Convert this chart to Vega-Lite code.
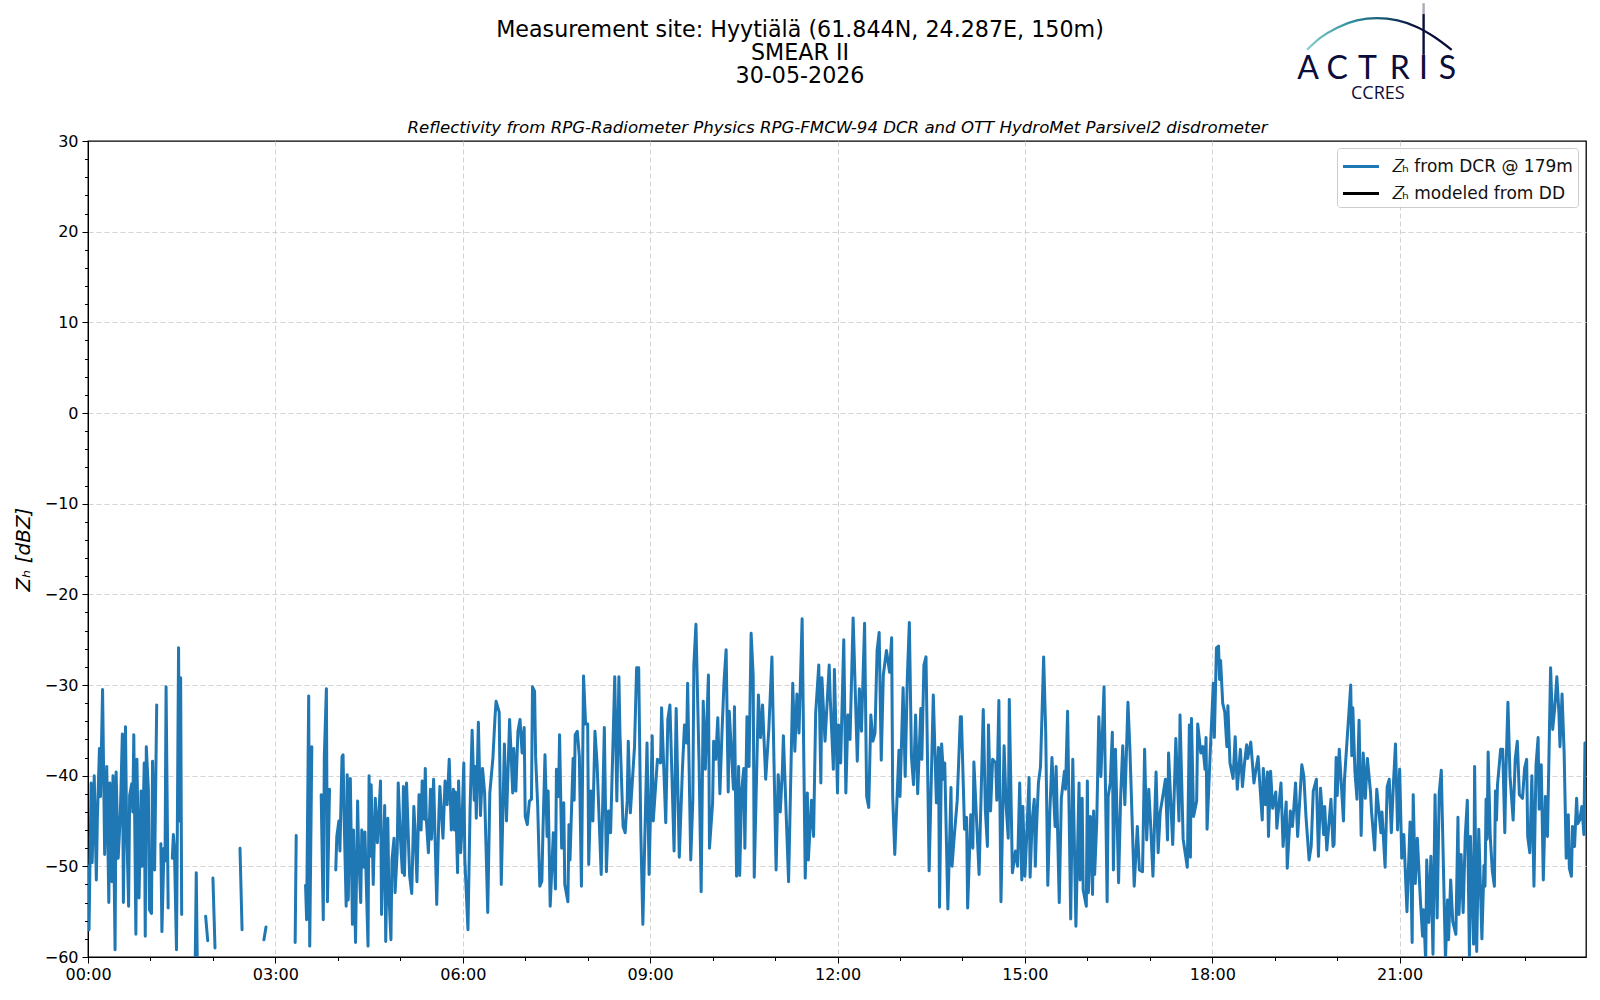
{
"$schema":"https://vega.github.io/schema/vega-lite/v6.json",
"width":1498,"height":816,
"autosize":{"type":"none"},
"padding":{"left":88,"top":141,"right":14,"bottom":43},
"background":"white",
"config":{"view":{"stroke":"black","strokeWidth":1.3},"font":"DejaVu Sans"},
"title":{"text":["Measurement site: Hyytiälä (61.844N, 24.287E, 150m)","SMEAR II","30-05-2026"],"font":"DejaVu Sans","fontSize":22.2,"fontWeight":"normal","lineHeight":23,"anchor":"middle","dx":-37,"offset":-85},
"resolve":{"axis":{"x":"independent","y":"independent"}},
"layer":[
{"data":{"values":[{"t":"12:00","z":30,"label":"Reflectivity from RPG-Radiometer Physics RPG-FMCW-94 DCR and OTT HydroMet Parsivel2 disdrometer"}],"format":{"parse":{"t":"date:'%H:%M'"}}},
"mark":{"type":"text","font":"DejaVu Sans","fontStyle":"italic","fontSize":16.6,"baseline":"bottom","dy":-5,"color":"black"},
"encoding":{
"x":{"field":"t","type":"temporal","axis":{"orient":"bottom","title":null,"labels":false,"ticks":false,"domain":false,"grid":true,"gridColor":"#d3d3d3","gridDash":[5,3],
"values":[{"year":1900,"month":1,"date":1,"hours":3},{"year":1900,"month":1,"date":1,"hours":6},{"year":1900,"month":1,"date":1,"hours":9},{"year":1900,"month":1,"date":1,"hours":12},{"year":1900,"month":1,"date":1,"hours":15},{"year":1900,"month":1,"date":1,"hours":18},{"year":1900,"month":1,"date":1,"hours":21}]}},
"y":{"field":"z","type":"quantitative","axis":{"orient":"left","title":null,"labels":false,"ticks":false,"domain":false,"grid":true,"gridColor":"#d3d3d3","gridDash":[5,3],"values":[-50,-40,-30,-20,-10,0,10,20]}},
"text":{"field":"label"}}},
{"data":{"values":[{"t":"19:32","z":36.84,"label":"A"},{"t":"20:00","z":36.84,"label":"C"},{"t":"20:29","z":36.84,"label":"T"},{"t":"21:00","z":36.84,"label":"R"},{"t":"21:23","z":36.84,"label":"I"},{"t":"21:46","z":36.84,"label":"S"}],"format":{"parse":{"t":"date:'%H:%M'"}}},
"mark":{"type":"text","font":"Lato","fontSize":32,"baseline":"alphabetic","color":"#0b0d3a"},
"encoding":{
"x":{"field":"t","type":"temporal","axis":{"orient":"bottom","title":null,"labels":false,"domain":false,"grid":false,"tickColor":"black","tickSize":3.5,
"values":[{"year":1900,"month":1,"date":1,"hours":1},{"year":1900,"month":1,"date":1,"hours":2},{"year":1900,"month":1,"date":1,"hours":4},{"year":1900,"month":1,"date":1,"hours":5},{"year":1900,"month":1,"date":1,"hours":7},{"year":1900,"month":1,"date":1,"hours":8},{"year":1900,"month":1,"date":1,"hours":10},{"year":1900,"month":1,"date":1,"hours":11},{"year":1900,"month":1,"date":1,"hours":13},{"year":1900,"month":1,"date":1,"hours":14},{"year":1900,"month":1,"date":1,"hours":16},{"year":1900,"month":1,"date":1,"hours":17},{"year":1900,"month":1,"date":1,"hours":19},{"year":1900,"month":1,"date":1,"hours":20},{"year":1900,"month":1,"date":1,"hours":22},{"year":1900,"month":1,"date":1,"hours":23}]}},
"y":{"field":"z","type":"quantitative","axis":{"orient":"left","title":null,"labels":false,"domain":false,"grid":false,"tickColor":"black","tickSize":3.5,"values":[-58,-56,-54,-52,-48,-46,-44,-42,-38,-36,-34,-32,-28,-26,-24,-22,-18,-16,-14,-12,-8,-6,-4,-2,2,4,6,8,12,14,16,18,22,24,26,28]}},
"text":{"field":"label"}}},
{"data":{"format":{"parse":{"t":"date:'%H:%M'"}},"values":[
{"t":"00:00","z":-50},{"t":"00:01","z":-57},{"t":"00:03","z":-40.8},{"t":"00:04","z":-49.6},{"t":"00:06","z":-40},{"t":"00:08","z":-51.5},{"t":"00:09","z":-44.7},{"t":"00:11","z":-37},{"t":"00:12","z":-42.3},{"t":"00:14","z":-30.5},{"t":"00:16","z":-48.7},{"t":"00:18","z":-39},{"t":"00:20","z":-54},{"t":"00:21","z":-40.8},{"t":"00:23","z":-51.7},{"t":"00:24","z":-40},{"t":"00:26","z":-59.2},{"t":"00:27","z":-39.6},{"t":"00:29","z":-49.1},{"t":"00:31","z":-44.5},{"t":"00:33","z":-35.4},{"t":"00:34","z":-54},{"t":"00:36","z":-34.6},{"t":"00:37","z":-44.8},{"t":"00:39","z":-54.4},{"t":"00:40","z":-42.2},{"t":"00:42","z":-40.9},{"t":"00:43","z":-44},{"t":"00:44","z":-35.5},{"t":"00:46","z":-57.5},{"t":"00:47","z":-38.2},{"t":"00:49","z":-53.5},{"t":"00:51","z":-41.7},{"t":"00:52","z":-50},{"t":"00:54","z":-38.6},{"t":"00:55","z":-57.7},{"t":"00:56","z":-36.8},{"t":"00:58","z":-41.6},{"t":"00:59","z":-54.8},{"t":"01:01","z":-55.2},{"t":"01:02","z":-38.4},{"t":"01:04","z":-50.4},{"t":"01:06","z":-32.2},{"t":"01:08","z":null},
{"t":"01:10","z":-47.5},{"t":"01:11","z":-57.2},{"t":"01:13","z":-48},{"t":"01:14","z":-49.4},{"t":"01:15","z":-30.2},{"t":"01:17","z":-54.6},{"t":"01:18","z":null},
{"t":"01:21","z":-49.1},{"t":"01:22","z":-46.5},{"t":"01:23","z":-48},{"t":"01:25","z":-59.2},{"t":"01:27","z":-25.9},{"t":"01:28","z":-45},{"t":"01:29","z":-29.2},{"t":"01:30","z":-55.3},{"t":"01:31","z":null},
{"t":"01:43","z":-60.5},{"t":"01:44","z":-50.7},{"t":"01:45","z":-61},{"t":"01:46","z":-60.5},{"t":"01:48","z":null},
{"t":"01:53","z":-55.5},{"t":"01:55","z":-58.2},{"t":"01:56","z":null},
{"t":"02:00","z":-51.3},{"t":"02:02","z":-59},{"t":"02:03","z":null},
{"t":"02:26","z":-48},{"t":"02:28","z":-57},{"t":"02:29","z":null},
{"t":"02:49","z":-58.1},{"t":"02:51","z":-56.7},{"t":"02:52","z":null},
{"t":"03:19","z":-58.4},{"t":"03:20","z":-46.6},{"t":"03:22","z":null},
{"t":"03:29","z":-52.1},{"t":"03:30","z":-55.9},{"t":"03:32","z":-31.2},{"t":"03:33","z":-58.8},{"t":"03:35","z":-36.8},{"t":"03:38","z":null},
{"t":"03:44","z":-42.1},{"t":"03:46","z":-55.9},{"t":"03:47","z":-38},{"t":"03:49","z":-30.4},{"t":"03:50","z":-53.9},{"t":"03:52","z":-41.5},{"t":"03:54","z":null},
{"t":"03:58","z":-50.4},{"t":"03:59","z":-46.7},{"t":"04:01","z":-45},{"t":"04:02","z":-48.3},{"t":"04:04","z":-37.9},{"t":"04:05","z":-37.7},{"t":"04:06","z":-44.4},{"t":"04:08","z":-54.4},{"t":"04:09","z":-39.9},{"t":"04:10","z":-53.7},{"t":"04:12","z":-40.3},{"t":"04:14","z":-56.4},{"t":"04:15","z":-46},{"t":"04:17","z":-58.4},{"t":"04:19","z":-42.8},{"t":"04:20","z":-48.5},{"t":"04:22","z":-54},{"t":"04:23","z":-46},{"t":"04:25","z":-50.1},{"t":"04:26","z":-46.2},{"t":"04:29","z":-58.8},{"t":"04:30","z":-40},{"t":"04:31","z":-48.9},{"t":"04:32","z":-41},{"t":"04:34","z":-52},{"t":"04:36","z":-42.5},{"t":"04:38","z":-47.4},{"t":"04:41","z":-40.6},{"t":"04:42","z":-55.3},{"t":"04:45","z":-43.3},{"t":"04:46","z":-58.3},{"t":"04:48","z":-44.7},{"t":"04:49","z":-52.9},{"t":"04:51","z":-58.1},{"t":"04:52","z":-49.3},{"t":"04:54","z":-46.9},{"t":"04:55","z":-52.9},{"t":"04:57","z":-48.5},{"t":"04:58","z":-40.8},{"t":"05:00","z":-46.7},{"t":"05:02","z":-50.7},{"t":"05:03","z":-41.2},{"t":"05:04","z":-51},{"t":"05:06","z":-40.8},{"t":"05:08","z":-47.8},{"t":"05:09","z":-51.1},{"t":"05:11","z":-53},{"t":"05:13","z":-43.4},{"t":"05:14","z":-45.6},{"t":"05:16","z":-51.7},{"t":"05:18","z":-42.1},{"t":"05:20","z":-46},{"t":"05:21","z":-40.6},{"t":"05:23","z":-44.8},{"t":"05:24","z":-39.2},{"t":"05:25","z":-44.8},{"t":"05:27","z":-48.5},{"t":"05:29","z":-41.5},{"t":"05:30","z":-47},{"t":"05:32","z":-40.4},{"t":"05:35","z":-54.2},{"t":"05:37","z":-44.5},{"t":"05:38","z":-41.2},{"t":"05:41","z":-46.9},{"t":"05:43","z":-40.6},{"t":"05:45","z":-43.2},{"t":"05:47","z":-38.2},{"t":"05:49","z":-46},{"t":"05:51","z":-41.5},{"t":"05:52","z":-46},{"t":"05:53","z":-41.8},{"t":"05:55","z":-50.7},{"t":"05:56","z":-40.6},{"t":"05:58","z":-48.5},{"t":"05:59","z":-46.3},
{"t":"06:01","z":-38.6},{"t":"06:02","z":-49.3},{"t":"06:05","z":-57},{"t":"06:07","z":-43.8},{"t":"06:09","z":-35},{"t":"06:11","z":-42.7},{"t":"06:12","z":-39},{"t":"06:13","z":-44.7},{"t":"06:15","z":-34.1},{"t":"06:17","z":-44.4},{"t":"06:19","z":-39.2},{"t":"06:21","z":-41.9},{"t":"06:24","z":-55.1},{"t":"06:26","z":-41.9},{"t":"06:29","z":-38},{"t":"06:31","z":-33.5},{"t":"06:32","z":-31.8},{"t":"06:35","z":-33},{"t":"06:37","z":-52},{"t":"06:40","z":-36.5},{"t":"06:42","z":-45},{"t":"06:45","z":-33.8},{"t":"06:48","z":-41.9},{"t":"06:49","z":-37},{"t":"06:51","z":-41.7},{"t":"06:53","z":-35.1},{"t":"06:55","z":-33.8},{"t":"06:57","z":-37.5},{"t":"06:59","z":-34.7},{"t":"07:00","z":-44.5},{"t":"07:02","z":-45.4},{"t":"07:04","z":-42.8},{"t":"07:06","z":-42.6},{"t":"07:07","z":-30.2},{"t":"07:09","z":-30.7},{"t":"07:10","z":-37.9},{"t":"07:12","z":-43.4},{"t":"07:14","z":-52.2},{"t":"07:16","z":-51.6},{"t":"07:17","z":-46.3},{"t":"07:19","z":-37.7},{"t":"07:21","z":-46.7},{"t":"07:22","z":-41.7},{"t":"07:24","z":-54.4},{"t":"07:27","z":-46.3},{"t":"07:29","z":-52.5},{"t":"07:30","z":-39.3},{"t":"07:32","z":-42.3},{"t":"07:33","z":-35.5},{"t":"07:35","z":-48},{"t":"07:37","z":-43},{"t":"07:38","z":-52},{"t":"07:41","z":-53.9},{"t":"07:42","z":-45.4},{"t":"07:43","z":-49.3},{"t":"07:46","z":-38.1},{"t":"07:47","z":-42.7},{"t":"07:48","z":-35.5},{"t":"07:50","z":-35.1},{"t":"07:52","z":-37.9},{"t":"07:54","z":-52.2},{"t":"07:56","z":-29},{"t":"07:58","z":-34.3},{"t":"08:00","z":-34.3},{"t":"08:01","z":-49.8},{"t":"08:03","z":-41.7},{"t":"08:05","z":-45},{"t":"08:07","z":-35.1},{"t":"08:09","z":-38.6},{"t":"08:13","z":-50.9},{"t":"08:16","z":-34.7},{"t":"08:18","z":-50.6},{"t":"08:20","z":-43.9},{"t":"08:22","z":-46.3},{"t":"08:26","z":-29.1},{"t":"08:28","z":-42.8},{"t":"08:30","z":-29.1},{"t":"08:31","z":-35.3},{"t":"08:34","z":-45.6},{"t":"08:36","z":-46.3},{"t":"08:38","z":-42.7},{"t":"08:39","z":-36.2},{"t":"08:41","z":-44.1},{"t":"08:45","z":-36.8},{"t":"08:47","z":-28.1},{"t":"08:49","z":-28.1},{"t":"08:51","z":-46},{"t":"08:53","z":-56.4},{"t":"08:57","z":-36.4},{"t":"08:59","z":-50.9},{"t":"09:02","z":-35.6},{"t":"09:03","z":-45},{"t":"09:07","z":-38.2},{"t":"09:10","z":-38.6},{"t":"09:11","z":-32.5},{"t":"09:15","z":-45.2},{"t":"09:17","z":-33.8},{"t":"09:19","z":-32.2},{"t":"09:23","z":-48.3},{"t":"09:25","z":-32.6},{"t":"09:28","z":-49},{"t":"09:31","z":-39.3},{"t":"09:33","z":-34.4},{"t":"09:35","z":-36.4},{"t":"09:36","z":-29.8},{"t":"09:39","z":-49.3},{"t":"09:41","z":-42.7},{"t":"09:42","z":-27.8},{"t":"09:44","z":-23.3},{"t":"09:47","z":-38.6},{"t":"09:49","z":-52.8},{"t":"09:51","z":-31.8},{"t":"09:53","z":-39.3},{"t":"09:56","z":-28.9},{"t":"09:57","z":-48},{"t":"10:00","z":-43},{"t":"10:01","z":-36.2},{"t":"10:03","z":-38.2},{"t":"10:05","z":-33.6},{"t":"10:07","z":-42},{"t":"10:09","z":-35.3},{"t":"10:11","z":-29.6},{"t":"10:13","z":-26.1},{"t":"10:15","z":-41.8},{"t":"10:16","z":-32.9},{"t":"10:20","z":-41.5},{"t":"10:21","z":-32.4},{"t":"10:23","z":-51.1},{"t":"10:25","z":-39},{"t":"10:26","z":-51},{"t":"10:28","z":-41.5},{"t":"10:30","z":-39.2},{"t":"10:31","z":-48},{"t":"10:33","z":-33.5},{"t":"10:35","z":-39},{"t":"10:37","z":-24.3},{"t":"10:39","z":-29},{"t":"10:40","z":-51.2},{"t":"10:44","z":-31.1},{"t":"10:46","z":-35.8},{"t":"10:48","z":-32.2},{"t":"10:51","z":-40.4},{"t":"10:54","z":-34.9},{"t":"10:57","z":-26.9},{"t":"11:01","z":-50.4},{"t":"11:03","z":-39.9},{"t":"11:05","z":-44},{"t":"11:07","z":-39.5},{"t":"11:08","z":-35.6},{"t":"11:13","z":-51.7},{"t":"11:17","z":-29.8},{"t":"11:19","z":-37.3},{"t":"11:21","z":-31},{"t":"11:23","z":-35.3},{"t":"11:26","z":-22.7},{"t":"11:29","z":-51.3},{"t":"11:31","z":-41.9},{"t":"11:32","z":-49.3},{"t":"11:35","z":-42.7},{"t":"11:37","z":-46.7},{"t":"11:39","z":-33.1},{"t":"11:42","z":-27.8},{"t":"11:44","z":-40.8},{"t":"11:45","z":-29.2},{"t":"11:48","z":-36.2},{"t":"11:52","z":-27.8},{"t":"11:53","z":-31.4},{"t":"11:56","z":-39.3},{"t":"11:57","z":-28.3},{"t":"12:00","z":-41.9},{"t":"12:01","z":-34.4},{"t":"12:03","z":-38.6},{"t":"12:06","z":-25},{"t":"12:08","z":-41.9},{"t":"12:10","z":-33.3},{"t":"12:12","z":-36},{"t":"12:15","z":-22.6},{"t":"12:19","z":-38.4},{"t":"12:21","z":-30.4},{"t":"12:23","z":-35.1},{"t":"12:26","z":-23.2},{"t":"12:28","z":-42.3},{"t":"12:30","z":-43.5},{"t":"12:32","z":-33.3},{"t":"12:34","z":-36.2},{"t":"12:36","z":-35.3},{"t":"12:38","z":-26.2},{"t":"12:40","z":-24.2},{"t":"12:42","z":-38.3},{"t":"12:44","z":-28.9},{"t":"12:47","z":-26.2},{"t":"12:50","z":-28.6},{"t":"12:52","z":-24.8},{"t":"12:53","z":-42.3},{"t":"12:55","z":-48.7},{"t":"12:59","z":-37.2},{"t":"13:00","z":-42.3},{"t":"13:03","z":-30.3},{"t":"13:05","z":-40.1},{"t":"13:07","z":-29.4},{"t":"13:09","z":-23.1},{"t":"13:11","z":-37.9},{"t":"13:13","z":-41},{"t":"13:15","z":-33.3},{"t":"13:17","z":-42},{"t":"13:20","z":-32.6},{"t":"13:21","z":-38.2},{"t":"13:23","z":-27.8},{"t":"13:25","z":-26.9},{"t":"13:28","z":-50.5},{"t":"13:32","z":-31.1},{"t":"13:35","z":-43},{"t":"13:37","z":-36.9},{"t":"13:38","z":-54.5},{"t":"13:40","z":-36.5},{"t":"13:42","z":-40.4},{"t":"13:43","z":-38.6},{"t":"13:46","z":-54.7},{"t":"13:49","z":-41.3},{"t":"13:50","z":-50},{"t":"13:52","z":-46.9},{"t":"13:55","z":-42.7},{"t":"13:58","z":-33.5},{"t":"13:59","z":-33.5},{"t":"14:02","z":-45.9},{"t":"14:04","z":-44.6},{"t":"14:05","z":-54.6},{"t":"14:08","z":-44.3},{"t":"14:10","z":-48},{"t":"14:11","z":-38.5},{"t":"14:16","z":-50.9},{"t":"14:20","z":-32.7},{"t":"14:22","z":-43.8},{"t":"14:24","z":-47.8},{"t":"14:25","z":-34.4},{"t":"14:27","z":-43.9},{"t":"14:29","z":-38.2},{"t":"14:32","z":-38.6},{"t":"14:33","z":-42.7},{"t":"14:35","z":-31.7},{"t":"14:37","z":-53.9},{"t":"14:40","z":-36.7},{"t":"14:42","z":-43.4},{"t":"14:44","z":-46.9},{"t":"14:45","z":-31.6},{"t":"14:48","z":-50.7},{"t":"14:51","z":-48.3},{"t":"14:53","z":-50},{"t":"14:55","z":-40.8},{"t":"14:57","z":-51.5},{"t":"14:58","z":-43.4},{"t":"15:00","z":-51.1},{"t":"15:02","z":-46},{"t":"15:04","z":-40.2},{"t":"15:05","z":-51.2},{"t":"15:07","z":-44.9},{"t":"15:09","z":-42.6},{"t":"15:10","z":-50},{"t":"15:11","z":-46.3},{"t":"15:13","z":-40.8},{"t":"15:15","z":-39},{"t":"15:18","z":-26.9},{"t":"15:20","z":-35.3},{"t":"15:22","z":-52.1},{"t":"15:24","z":-43.9},{"t":"15:26","z":-38},{"t":"15:29","z":-45.6},{"t":"15:30","z":-39},{"t":"15:33","z":-54},{"t":"15:35","z":-42.5},{"t":"15:38","z":-39.5},{"t":"15:39","z":-41.5},{"t":"15:41","z":-32.9},{"t":"15:44","z":-55.8},{"t":"15:46","z":-38.2},{"t":"15:49","z":-56.6},{"t":"15:52","z":-40.8},{"t":"15:53","z":-51.5},{"t":"15:55","z":-42.5},{"t":"15:56","z":-52.6},{"t":"15:59","z":-54.4},{"t":"16:00","z":-40.6},{"t":"16:01","z":-52.9},{"t":"16:03","z":-44.5},{"t":"16:05","z":-53.1},{"t":"16:06","z":-43.9},{"t":"16:07","z":-50.9},{"t":"16:09","z":-45.2},{"t":"16:11","z":-33.5},{"t":"16:13","z":-40.1},{"t":"16:16","z":-30.2},{"t":"16:19","z":-53.9},{"t":"16:20","z":-42.3},{"t":"16:22","z":-40.8},{"t":"16:24","z":-35.2},{"t":"16:25","z":-50.4},{"t":"16:27","z":-37.1},{"t":"16:30","z":-51.8},{"t":"16:32","z":-42.3},{"t":"16:34","z":-36.7},{"t":"16:36","z":-43.2},{"t":"16:39","z":-31.9},{"t":"16:41","z":-37.5},{"t":"16:45","z":-52.2},{"t":"16:48","z":-45.6},{"t":"16:50","z":-50.4},{"t":"16:53","z":-50.6},{"t":"16:55","z":-37.1},{"t":"16:57","z":-47.1},{"t":"16:59","z":-41.5},{"t":"17:01","z":-45.9},{"t":"17:03","z":-51.1},{"t":"17:06","z":-39.6},{"t":"17:08","z":-48.5},{"t":"17:10","z":-44},{"t":"17:12","z":-42.6},{"t":"17:15","z":-40.4},{"t":"17:17","z":-47.1},{"t":"17:18","z":-37.5},{"t":"17:22","z":-47.6},{"t":"17:25","z":-35.9},{"t":"17:28","z":-45},{"t":"17:29","z":-33.3},{"t":"17:32","z":-47},{"t":"17:36","z":-50.1},{"t":"17:38","z":-34.4},{"t":"17:39","z":-49},{"t":"17:40","z":-33.7},{"t":"17:42","z":-44.5},{"t":"17:45","z":-42.8},{"t":"17:46","z":-34.3},{"t":"17:49","z":-37.5},{"t":"17:51","z":-36.8},{"t":"17:53","z":-39.3},{"t":"17:54","z":-35.8},{"t":"17:55","z":-45.9},{"t":"17:58","z":-37.5},{"t":"18:01","z":-29.8},{"t":"18:02","z":-35.8},{"t":"18:04","z":-25.9},{"t":"18:06","z":-25.7},{"t":"18:07","z":-29.4},{"t":"18:08","z":-27.3},{"t":"18:10","z":-32},{"t":"18:12","z":-33},{"t":"18:14","z":-36.8},{"t":"18:15","z":-32.3},{"t":"18:17","z":-38.6},{"t":"18:20","z":-40.3},{"t":"18:22","z":-35.7},{"t":"18:24","z":-41.5},{"t":"18:27","z":-37.1},{"t":"18:29","z":-41.2},{"t":"18:31","z":-38.6},{"t":"18:33","z":-36.6},{"t":"18:34","z":-38.1},{"t":"18:37","z":-36.3},{"t":"18:40","z":-40.8},{"t":"18:42","z":-39.3},{"t":"18:44","z":-37.9},{"t":"18:46","z":-41.5},{"t":"18:48","z":-44.9},{"t":"18:49","z":-39.2},{"t":"18:51","z":-43.2},{"t":"18:53","z":-39.6},{"t":"18:54","z":-46.7},{"t":"18:56","z":-39.5},{"t":"18:58","z":-43.6},{"t":"19:01","z":-41.8},{"t":"19:02","z":-45.8},{"t":"19:06","z":-40.8},{"t":"19:08","z":-47.8},{"t":"19:11","z":-42.9},{"t":"19:12","z":-50.2},{"t":"19:15","z":-43.9},{"t":"19:17","z":-45.6},{"t":"19:18","z":-44.1},{"t":"19:20","z":-40.8},{"t":"19:22","z":-46.7},{"t":"19:26","z":-38.8},{"t":"19:28","z":-40.1},{"t":"19:30","z":-44.5},{"t":"19:33","z":-49.3},{"t":"19:35","z":-47.8},{"t":"19:37","z":-41.7},{"t":"19:40","z":-40.4},{"t":"19:42","z":-48.9},{"t":"19:44","z":-41.4},{"t":"19:47","z":-46.5},{"t":"19:48","z":-43.4},{"t":"19:50","z":-48.2},{"t":"19:54","z":-42.6},{"t":"19:56","z":-47.8},{"t":"19:57","z":-47.6},{"t":"19:59","z":-38},{"t":"20:00","z":-42.2},{"t":"20:02","z":-37.1},{"t":"20:06","z":-45},{"t":"20:07","z":-40.4},{"t":"20:13","z":-30},{"t":"20:14","z":-37.8},{"t":"20:15","z":-32.5},{"t":"20:17","z":-39.5},{"t":"20:19","z":-42.6},{"t":"20:21","z":-33.9},{"t":"20:23","z":-46.6},{"t":"20:25","z":-37.5},{"t":"20:27","z":-42.5},{"t":"20:29","z":-38.1},{"t":"20:32","z":-41.8},{"t":"20:33","z":-44},{"t":"20:36","z":-48.2},{"t":"20:38","z":-41.5},{"t":"20:42","z":-46.3},{"t":"20:43","z":-44},{"t":"20:46","z":-50.1},{"t":"20:48","z":-41.2},{"t":"20:50","z":-40.4},{"t":"20:52","z":-46.3},{"t":"20:54","z":-40.9},{"t":"20:56","z":-36.5},{"t":"20:58","z":-46},{"t":"21:00","z":-39.3},{"t":"21:02","z":-49.1},{"t":"21:04","z":-46.5},{"t":"21:07","z":-55},{"t":"21:10","z":-45.1},{"t":"21:12","z":-58.4},{"t":"21:13","z":-42.1},{"t":"21:15","z":-51.9},{"t":"21:17","z":-46.9},{"t":"21:20","z":-53.9},{"t":"21:22","z":-57.7},{"t":"21:23","z":-54.8},{"t":"21:25","z":-60.5},{"t":"21:26","z":-49.3},{"t":"21:28","z":-56.2},{"t":"21:30","z":-48.9},{"t":"21:32","z":-59.7},{"t":"21:34","z":-42.1},{"t":"21:36","z":-55.7},{"t":"21:38","z":-41.9},{"t":"21:40","z":-39.4},{"t":"21:44","z":-60.3},{"t":"21:46","z":-53.7},{"t":"21:47","z":-58.1},{"t":"21:49","z":-51.5},{"t":"21:51","z":-56.1},{"t":"21:54","z":-57.5},{"t":"21:56","z":-44.6},{"t":"21:57","z":-55.3},{"t":"21:59","z":-48.7},{"t":"22:01","z":-55.1},{"t":"22:03","z":-46.7},{"t":"22:05","z":-42.7},{"t":"22:07","z":-59.9},{"t":"22:08","z":-46.7},{"t":"22:11","z":-58.6},{"t":"22:12","z":-39},{"t":"22:14","z":-59.4},{"t":"22:16","z":-45.9},{"t":"22:19","z":-58},{"t":"22:21","z":-49.9},{"t":"22:22","z":-52.2},{"t":"22:23","z":-42.6},{"t":"22:24","z":-47},{"t":"22:25","z":-37.4},{"t":"22:27","z":-46.7},{"t":"22:29","z":-50.5},{"t":"22:31","z":-52.2},{"t":"22:32","z":-41.7},{"t":"22:33","z":-44.9},{"t":"22:34","z":-41},{"t":"22:37","z":-37.1},{"t":"22:39","z":-37.1},{"t":"22:41","z":-46.3},{"t":"22:42","z":-40},{"t":"22:44","z":-31.9},{"t":"22:46","z":-40},{"t":"22:49","z":-44.9},{"t":"22:51","z":-38.2},{"t":"22:53","z":-36.2},{"t":"22:55","z":-42.1},{"t":"22:58","z":-42.5},{"t":"23:00","z":-39.2},{"t":"23:02","z":-38.2},{"t":"23:03","z":-46.7},{"t":"23:05","z":-48.5},{"t":"23:07","z":-40},{"t":"23:09","z":-52.2},{"t":"23:11","z":-38.8},{"t":"23:13","z":-35.8},{"t":"23:14","z":-43.7},{"t":"23:16","z":-38.8},{"t":"23:18","z":-51.5},{"t":"23:20","z":-42.3},{"t":"23:22","z":-46.7},{"t":"23:25","z":-28.1},{"t":"23:27","z":-34.9},{"t":"23:29","z":-32.5},{"t":"23:31","z":-29.1},{"t":"23:33","z":-33.1},{"t":"23:34","z":-36.8},{"t":"23:36","z":-31},{"t":"23:38","z":-37.5},{"t":"23:40","z":-49.1},{"t":"23:42","z":-44.3},{"t":"23:43","z":-50.2},{"t":"23:45","z":-51.1},{"t":"23:46","z":-45.6},{"t":"23:48","z":-47.8},{"t":"23:50","z":-42.5},{"t":"23:51","z":-45.3},{"t":"23:53","z":-44.9},{"t":"23:55","z":-43.4},{"t":"23:57","z":-46.5},{"t":"23:58","z":-36.4}
]},
"mark":{"type":"line","strokeWidth":3,"strokeCap":"round","strokeJoin":"round","clip":true},
"encoding":{
"x":{"field":"t","type":"temporal",
"scale":{"domain":[{"year":1900,"month":1,"date":1,"hours":0},{"year":1900,"month":1,"date":1,"hours":23,"minutes":59}]},
"axis":{"orient":"bottom","title":null,"format":"%H:%M","labelFlush":false,"labelOverlap":false,"labelFontSize":16,"labelColor":"black","labelPadding":3,"domainColor":"black","tickColor":"black","tickSize":6,"grid":false,
"values":[{"year":1900,"month":1,"date":1,"hours":0},{"year":1900,"month":1,"date":1,"hours":3},{"year":1900,"month":1,"date":1,"hours":6},{"year":1900,"month":1,"date":1,"hours":9},{"year":1900,"month":1,"date":1,"hours":12},{"year":1900,"month":1,"date":1,"hours":15},{"year":1900,"month":1,"date":1,"hours":18},{"year":1900,"month":1,"date":1,"hours":21}]}},
"y":{"field":"z","type":"quantitative",
"scale":{"domain":[-60,30],"nice":false},
"axis":{"orient":"left","title":"Zₕ [dBZ]","values":[-60,-50,-40,-30,-20,-10,0,10,20,30],"labelOverlap":false,"labelFontSize":16,"labelColor":"black","labelPadding":4,"domainColor":"black","tickColor":"black","tickSize":6,"grid":false,"titleFontSize":20,"titleFontWeight":"normal","titleFontStyle":"italic","titleColor":"black","titlePadding":11}},
"color":{"datum":"𝑍ₕ from DCR @ 179m","type":"nominal",
"scale":{"domain":["𝑍ₕ from DCR @ 179m","𝑍ₕ modeled from DD"],"range":["#1f77b4","black"]},
"legend":{"title":null,"orient":"none","legendX":1249,"legendY":7,"symbolType":"M-1.5,0H1.5","symbolSize":576,"symbolStrokeWidth":3,"symbolOffset":5.5,"labelOffset":17.5,"labelFont":"DejaVu Sans","labelFontSize":17,"labelColor":"#111111","labelLimit":300,"rowPadding":5,"padding":5,"fillColor":"rgba(255,255,255,0.8)","strokeColor":"#cccccc","cornerRadius":3}}
}},
{"data":{"values":[{"t":"20:39","z":34.63,"label":"CCRES"}],"format":{"parse":{"t":"date:'%H:%M'"}}},
"mark":{"type":"text","font":"Open Sans","fontSize":18,"baseline":"alphabetic","color":"#0b0d3a"},
"encoding":{"x":{"field":"t","type":"temporal","axis":null},"y":{"field":"z","type":"quantitative","axis":null},"text":{"field":"label"}}},
{"data":{"values":[{"t":"19:31","z":40.06},{"t":"19:44","z":41.4},{"t":"20:00","z":42.5},{"t":"20:19","z":43.3},{"t":"20:38","z":43.55},{"t":"20:58","z":43.3},{"t":"21:17","z":42.55},{"t":"21:33","z":41.5},{"t":"21:50","z":40.06}],"format":{"parse":{"t":"date:'%H:%M'"}}},
"mark":{"type":"line","interpolate":"monotone","strokeWidth":2.2,"stroke":{"gradient":"linear","x1":0,"y1":0,"x2":1,"y2":0,"stops":[{"offset":0,"color":"#86cfc9"},{"offset":0.3,"color":"#2f8f9f"},{"offset":0.55,"color":"#14506e"},{"offset":0.75,"color":"#0b0d3a"},{"offset":1,"color":"#0b0d3a"}]}},
"encoding":{"x":{"field":"t","type":"temporal","axis":null},"y":{"field":"z","type":"quantitative","axis":null}}},
{"data":{"values":[{"t":"21:23","z":39.5,"z2":44}],"format":{"parse":{"t":"date:'%H:%M'"}}},
"mark":{"type":"rule","strokeWidth":2.4,"color":"#0b0d3a"},
"encoding":{"x":{"field":"t","type":"temporal","axis":null},"y":{"field":"z","type":"quantitative","axis":null},"y2":{"field":"z2"}}},
{"data":{"values":[{"t":"21:23","z":44,"z2":45.2}],"format":{"parse":{"t":"date:'%H:%M'"}}},
"mark":{"type":"rule","strokeWidth":2.4,"color":"#0b0d3a","opacity":0.35},
"encoding":{"x":{"field":"t","type":"temporal","axis":null},"y":{"field":"z","type":"quantitative","axis":null},"y2":{"field":"z2"}}}
]
}
